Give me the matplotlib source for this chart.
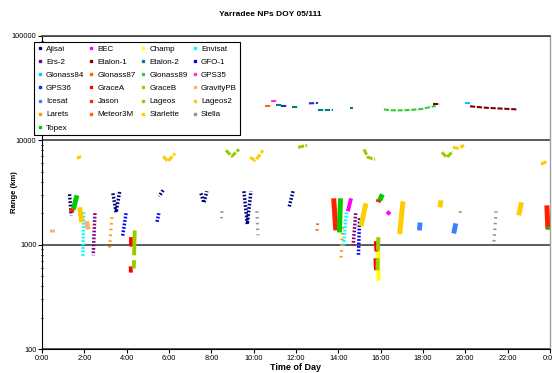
import matplotlib
matplotlib.use('Agg')
import matplotlib.pyplot as plt
from matplotlib.lines import Line2D
from matplotlib.ticker import FixedLocator, FuncFormatter, LogLocator, NullFormatter

plt.rcParams['font.family'] = ['Liberation Sans', 'DejaVu Sans']

################ DATA: passes as (hour of day, range km) ################

AJISAI = [[(1.30, 3040), (1.38, 1910)],
          [(3.35, 3100), (3.50, 2040), (3.68, 3320)],
          [(5.72, 3320), (5.53, 2900)],
          [(7.51, 3100), (7.65, 2520), (7.79, 3250)],
          [(9.54, 3250), (9.70, 1570), (9.87, 3250)],
          [(11.86, 3250), (11.67, 2270)]]
BEC = [[(14.60, 2780), (14.45, 2090)], [(16.30, 2080), (16.44, 1950)]]
CHAMP = [[(15.88, 920), (15.90, 450)]]
ENVISAT = [[(1.97, 2040), (1.93, 770)], [(14.38, 2040), (14.25, 985)]]
ERS2 = [[(2.50, 2000), (2.42, 790)], [(14.82, 2000), (14.70, 985)]]
ETALON1 = [[(18.47, 22500), (18.80, 22500)],
           [(20.22, 21200), (21.00, 20500), (22.44, 19800)]]
ETALON2 = [[(11.05, 21700), (11.38, 21700)], [(11.81, 20700), (12.09, 20700)],
           [(13.04, 19400), (13.75, 19400)], [(14.55, 20300), (14.69, 20300)]]
GFO1 = [[(3.97, 2000), (3.80, 1180)], [(5.52, 2000), (5.43, 1640)],
        [(15.00, 1790), (14.95, 790)]]
GLONASS84 = [[(19.98, 22600), (20.31, 22600)]]
GLONASS87 = [[(10.53, 21200), (10.86, 21200)]]
GLONASS89 = [[(16.15, 19800), (16.44, 19400), (17.10, 19400), (17.90, 19900), (18.60, 21400)]]
GPS35 = [[(10.82, 23700), (11.10, 23900)]]
GPS36 = [[(11.29, 21200), (11.57, 21200)], [(12.61, 22600), (13.04, 22800)]]
GRACEA = [[(4.20, 1180), (4.21, 960)], [(4.19, 620), (4.20, 540)],
          [(15.77, 1080), (15.80, 860)], [(15.75, 740), (15.78, 570)]]
GRACEB = [[(4.38, 1370), (4.35, 790)], [(4.35, 710), (4.33, 590)],
          [(15.89, 1180), (15.87, 880)], [(15.86, 740), (15.85, 570)]]
GRAVITYPB = [[(0.47, 1420), (0.47, 1330)], [(2.10, 1680), (2.18, 1400)]]
ICESAT = [[(17.86, 1630), (17.83, 1370)], [(19.55, 1600), (19.45, 1280)]]
JASON = [[(1.42, 2230), (1.40, 2040)], [(13.78, 2780), (13.88, 1370)],
         [(15.92, 2700), (15.88, 2550)], [(23.85, 2380), (23.90, 1400)]]
LAGEOS = [[(8.69, 8020), (8.97, 7030), (9.31, 8200)],
          [(12.10, 8570), (12.52, 8950)],
          [(15.21, 8200), (15.40, 6870), (15.73, 6570)],
          [(18.89, 7680), (19.13, 6870), (19.41, 7850)]]
LAGEOS2 = [[(1.65, 6720), (1.84, 7030)],
           [(5.72, 7030), (5.95, 6290), (6.28, 7500)],
           [(9.83, 6870), (10.06, 6430), (10.20, 6870), (10.44, 8020)],
           [(19.41, 8570), (19.65, 8380), (19.94, 8950)],
           [(23.57, 5890), (23.85, 6290)]]
LARETS = [[(3.30, 1830), (3.18, 880)], [(14.20, 1470), (14.12, 700)]]
METEOR3M = [[(13.02, 1600), (12.98, 1250)]]
STARLETTE = [[(1.78, 2280), (1.88, 1640)], [(15.30, 2490), (15.07, 1500)],
             [(17.05, 2600), (16.90, 1260)], [(18.85, 2660), (18.80, 2280)],
             [(22.65, 2550), (22.52, 1910)]]
STELLA = [[(8.50, 2090), (8.48, 1790)], [(10.15, 2090), (10.20, 1230)],
          [(19.75, 2090), (19.77, 2000)], [(21.45, 2090), (21.35, 1050)]]
TOPEX = [[(1.65, 2970), (1.48, 2180)], [(14.10, 2780), (14.05, 1310)],
         [(16.08, 3040), (15.95, 2660)], [(23.97, 1500), (23.99, 1400)]]

SATELLITES = ['Ajisai', 'BEC', 'Champ', 'Envisat', 'Ers-2', 'Etalon-1', 'Etalon-2',
              'GFO-1', 'Glonass84', 'Glonass87', 'Glonass89', 'GPS35', 'GPS36',
              'GraceA', 'GraceB', 'GravityPB', 'Icesat', 'Jason', 'Lageos',
              'Lageos2', 'Larets', 'Meteor3M', 'Starlette', 'Stella', 'Topex']
PASSES = [AJISAI, BEC, CHAMP, ENVISAT, ERS2, ETALON1, ETALON2, GFO1, GLONASS84,
          GLONASS87, GLONASS89, GPS35, GPS36, GRACEA, GRACEB, GRAVITYPB, ICESAT,
          JASON, LAGEOS, LAGEOS2, LARETS, METEOR3M, STARLETTE, STELLA, TOPEX]

################ STYLE ################

COLORS = ['#000080', '#FF00FF', '#FFFF00', '#00FFFF', '#800080', '#800000', '#008080',
          '#0000FF', '#00CCFF', '#FF6600', '#33CC33', '#FF33CC', '#1030D0',
          '#FF0000', '#99CC00', '#FFB070', '#3F7FFF', '#FF2000', '#99CC00',
          '#FFCC00', '#FF9900', '#FF6600', '#FFCC00', '#969696', '#00CC00']
KINDS = ['ladder', 'solid', 'solid', 'ladder', 'ladder', 'high', 'high',
         'ladder', 'high', 'high', 'high', 'high', 'high',
         'solid', 'solid', 'blob', 'blob', 'wide', 'arc',
         'arc', 'dots', 'dots', 'wide', 'dots', 'wide']
KIND_STYLE = {
    'ladder': (2.5, (0.5, 0.5)),
    'solid': (2.8, None),
    'wide': (3.6, None),
    'blob': (3.5, None),
    'dots': (2.3, (0.5, 1.3)),
    'high': (1.5, (2.5, 0.8)),
    'arc': (2.2, (2.0, 0.5)),
}

fig = plt.figure(figsize=(5.52, 3.73), dpi=100)
ax = fig.add_axes([0.0761, 0.0643, 0.9203, 0.8392])

for name, passes, color, kind in zip(SATELLITES, PASSES, COLORS, KINDS):
    lw, dashes = KIND_STYLE[kind]
    for p in passes:
        hours = [v[0] for v in p]
        rng = [v[1] for v in p]
        line, = ax.plot(hours, rng, color=color, lw=lw, solid_capstyle='butt',
                        dash_capstyle='butt', zorder=3)
        if dashes is not None:
            line.set_dashes(dashes)

ax.set_yscale('log')
ax.set_ylim(100, 100000)
ax.set_xlim(0, 24)

ax.xaxis.set_major_locator(FixedLocator(range(0, 25, 2)))
ax.xaxis.set_major_formatter(FuncFormatter(lambda v, pos: '%d:00' % (int(round(v)) % 24)))
ax.yaxis.set_major_locator(FixedLocator([100, 1000, 10000, 100000]))
ax.yaxis.set_major_formatter(FuncFormatter(lambda v, pos: '%d' % v))
ax.yaxis.set_minor_locator(LogLocator(base=10, subs=range(2, 10)))
ax.yaxis.set_minor_formatter(NullFormatter())
ax.tick_params(axis='both', which='major', labelsize=5.3, length=2.8, width=0.8,
               direction='out', pad=1.2)
ax.tick_params(axis='y', which='minor', length=2, width=0.7, direction='inout')

ax.grid(axis='y', which='major', color='#404040', lw=1.2, zorder=1)
ax.spines['left'].set_color('black')
ax.spines['bottom'].set_color('black')
ax.spines['top'].set_color('#404040')
ax.spines['top'].set_linewidth(1.2)
ax.spines['right'].set_color('#a0a0a0')
ax.spines['right'].set_linewidth(1.0)

fig.text(270 / 552, 1 - 15 / 373, 'Yarradee NPs DOY 05/111', ha='center', va='center',
         fontsize=6, fontweight='bold')
fig.text(296 / 552, 1 - 367 / 373, 'Time of Day', ha='center', va='center',
         fontsize=6.5, fontweight='bold')
fig.text(15 / 552, 1 - 192 / 373, 'Range (km)', ha='center', va='center',
         rotation=90, fontsize=5.5, fontweight='bold')

# legend filled row by row, like the spreadsheet one
handles = [Line2D([], [], ls='none', marker='s', ms=2.0, color=c, mec=c) for c in COLORS]
order = [i for col in range(4) for i in range(col, len(SATELLITES), 4)]
leg = fig.legend([handles[i] for i in order], [SATELLITES[i] for i in order],
                 loc='upper left', bbox_to_anchor=(34 / 552, 1 - 42 / 373), ncol=4,
                 fontsize=5.8, frameon=True, fancybox=False, framealpha=1,
                 edgecolor='black', handlelength=0.6, handletextpad=0.5,
                 columnspacing=0.55, labelspacing=0.68, borderpad=0.4,
                 borderaxespad=0)
leg.get_frame().set_linewidth(0.8)

fig.savefig('out.png', dpi=100)
